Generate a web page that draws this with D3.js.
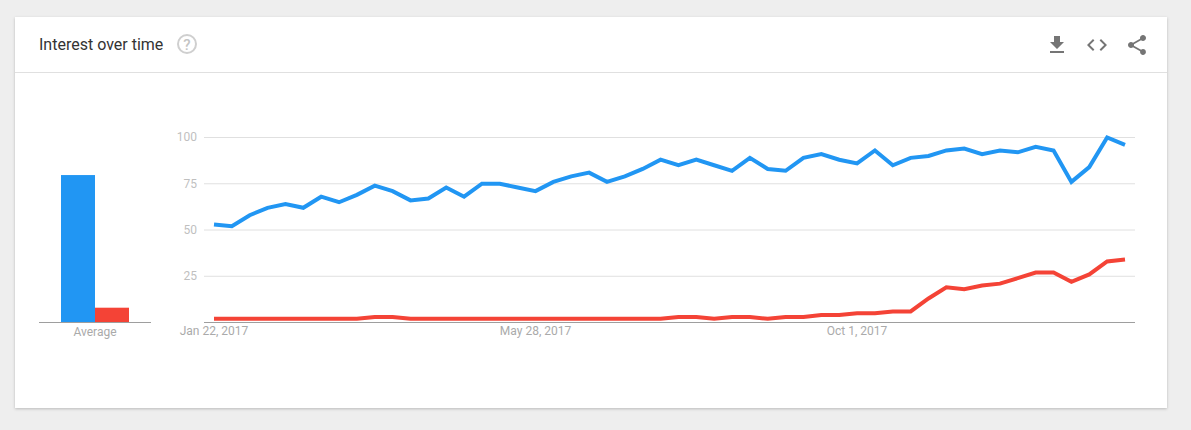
<!DOCTYPE html>
<html>
<head>
<meta charset="utf-8">
<script src="https://cdnjs.cloudflare.com/ajax/libs/d3/7.8.5/d3.min.js"></script>
<style>
html,body{margin:0;padding:0;background:#eeeeee;width:1191px;height:430px;overflow:hidden}
svg{display:block;font-family:Roboto,sans-serif}
</style>
</head>
<body>
<svg id="c" width="1191" height="430"></svg>
<script>
const weeks = ["2017-01-22","2017-01-29","2017-02-05","2017-02-12","2017-02-19","2017-02-26","2017-03-05","2017-03-12","2017-03-19","2017-03-26","2017-04-02","2017-04-09","2017-04-16","2017-04-23","2017-04-30","2017-05-07","2017-05-14","2017-05-21","2017-05-28","2017-06-04","2017-06-11","2017-06-18","2017-06-25","2017-07-02","2017-07-09","2017-07-16","2017-07-23","2017-07-30","2017-08-06","2017-08-13","2017-08-20","2017-08-27","2017-09-03","2017-09-10","2017-09-17","2017-09-24","2017-10-01","2017-10-08","2017-10-15","2017-10-22","2017-10-29","2017-11-05","2017-11-12","2017-11-19","2017-11-26","2017-12-03","2017-12-10","2017-12-17","2017-12-24","2017-12-31","2018-01-07","2018-01-14"];
const blueValues = [53,52,58,62,64,62,68,65,69,74,71,66,67,73,68,75,75,73,71,76,79,81,76,79,83,88,85,88,85,82,89,83,82,89,91,88,86,93,85,89,90,93,94,91,93,92,95,93,76,84,100,96];
const redValues = [2,2,2,2,2,2,2,2,2,3,3,2,2,2,2,2,2,2,2,2,2,2,2,2,2,2,3,3,2,3,3,2,3,3,4,4,5,5,6,6,13,19,18,20,21,24,27,27,22,26,33,34];
const yTicks = [25,50,75,100];
const xTickDates = ["2017-01-22","2017-05-28","2017-10-01"];
const xTickLabels = ["Jan 22, 2017","May 28, 2017","Oct 1, 2017"];
const avgSeries = ["blue","red"];
const avgValues = [79.7,8];
const avgLabel = "Average";
const title = "Interest over time";
const colors = {blue:"#2196f3",red:"#f44336"};

const svg = d3.select("#c");
const defs = svg.append("defs");
const f = defs.append("filter").attr("id","sh").attr("x","-2%").attr("y","-5%").attr("width","104%").attr("height","110%");
f.append("feDropShadow").attr("dx",0).attr("dy",1).attr("stdDeviation",1.5).attr("flood-color","#000").attr("flood-opacity",0.22);

svg.append("rect").attr("x",15).attr("y",17).attr("width",1152).attr("height",391).attr("fill","#fff").attr("filter","url(#sh)");
svg.append("line").attr("x1",15).attr("x2",1167).attr("y1",72.5).attr("y2",72.5).attr("stroke","#e0e0e0");
svg.append("text").attr("x",39).attr("y",50).attr("font-size",16).attr("fill","#333").text(title);

// help icon
const help = svg.append("g").attr("transform","translate(187,44)");
help.append("circle").attr("r",9).attr("fill","none").attr("stroke","#cfcfcf").attr("stroke-width",2);
help.append("text").attr("text-anchor","middle").attr("y",5.5).attr("font-size",15).attr("font-weight",500).attr("fill","#c4c4c4").text("?");

// toolbar icons
const ic = "#757575";
svg.append("path").attr("fill",ic).attr("transform","translate(1045,33)")
  .attr("d","M19 9h-4V3H9v6H5l7 7 7-7zM5 18v2h14v-2H5z");
svg.append("path").attr("fill",ic).attr("transform","translate(1085,33)")
  .attr("d","M9.4 16.6L4.8 12l4.6-4.6L8 6l-6 6 6 6 1.4-1.4zm5.2 0l4.6-4.6-4.6-4.6L16 6l6 6-6 6-1.4-1.4z");
svg.append("path").attr("fill",ic).attr("transform","translate(1125,33)")
  .attr("d","M18 16.08c-.76 0-1.44.3-1.96.77L8.91 12.7c.05-.23.09-.46.09-.7s-.04-.47-.09-.7l7.05-4.11c.54.5 1.25.81 2.04.81 1.66 0 3-1.34 3-3s-1.34-3-3-3-3 1.34-3 3c0 .24.04.47.09.7L8.04 9.81C7.5 9.31 6.79 9 6 9c-1.66 0-3 1.34-3 3s1.34 3 3 3c.79 0 1.5-.31 2.04-.81l7.12 4.16c-.05.21-.08.43-.08.65 0 1.61 1.31 2.92 2.92 2.92 1.61 0 2.92-1.31 2.92-2.92s-1.31-2.92-2.92-2.92z");

// scales
const y = d3.scaleLinear().domain([0,100]).range([322.5,137.5]);
const x = d3.scalePoint().domain(weeks).range([214,1125]);

// average bars
const avgX = d3.scaleBand().domain(avgSeries).range([61,129]);
svg.append("g").selectAll("rect").data(avgSeries).join("rect")
  .attr("x",d=>avgX(d)).attr("width",avgX.bandwidth())
  .attr("y",(d,i)=>y(avgValues[i])).attr("height",(d,i)=>y(0)-y(avgValues[i]))
  .attr("fill",d=>colors[d]);
svg.append("line").attr("x1",39).attr("x2",151).attr("y1",322.5).attr("y2",322.5).attr("stroke","#9e9e9e");
svg.append("text").attr("x",95).attr("y",336).attr("text-anchor","middle").attr("font-size",12).attr("fill","#aaaaaa").text(avgLabel);

// y axis & grid
const gy = svg.append("g").attr("transform","translate(204,0)")
  .call(d3.axisLeft(y).tickValues(yTicks).tickSize(-931).tickPadding(7).offset(0));
gy.select(".domain").remove();
gy.selectAll("line").attr("stroke","#e0e0e0");
gy.selectAll("text").attr("fill","#bfbfbf").attr("font-size",12).attr("font-family","Roboto,sans-serif");

// x axis
const gx = svg.append("g").attr("transform","translate(0,322.5)")
  .call(d3.axisBottom(x).tickValues(xTickDates).tickFormat((d,i)=>xTickLabels[i]).tickSize(0).tickPadding(4).offset(0));
gx.select(".domain").remove();
gx.selectAll("text").attr("fill","#aaaaaa").attr("font-size",12).attr("font-family","Roboto,sans-serif");
svg.append("line").attr("x1",204).attr("x2",1135).attr("y1",322.5).attr("y2",322.5).attr("stroke","#9e9e9e");

// lines
const line = d3.line().x((d,i)=>x(weeks[i])).y(d=>y(d));
[[redValues,colors.red],[blueValues,colors.blue]].forEach(([v,c])=>{
  svg.append("path").attr("d",line(v)).attr("fill","none").attr("stroke",c).attr("stroke-width",4).attr("stroke-linejoin","miter");
});
</script>
</body>
</html>
